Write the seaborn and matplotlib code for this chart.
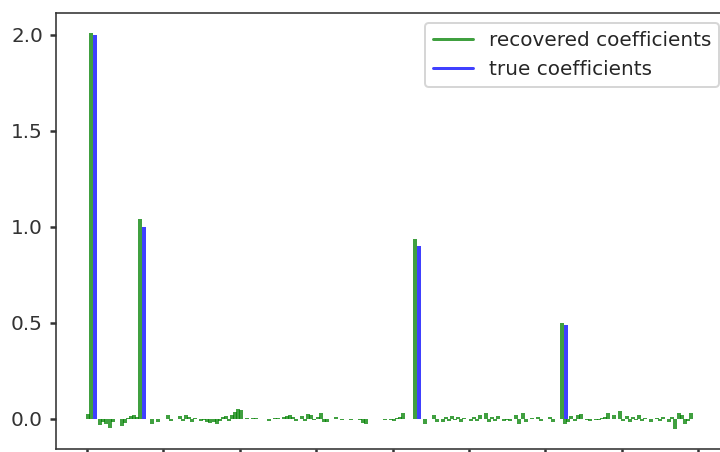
import numpy as np
import matplotlib
matplotlib.use("Agg")
import matplotlib.pyplot as plt
import seaborn as sns
from matplotlib.lines import Line2D

# Lasso fit on a sparse problem: 200 features, 4 of them active
n_features = 200
true_idx = [1, 17, 107, 155]
true_vals = [2.0, 1.0, 0.90, 0.49]

recovered = [
    0.025, 2.01, 0.0, 0.0, -0.035, -0.02, -0.03, -0.05, -0.02, 0.0,
    0.0, -0.04, -0.025, 0.005, 0.015, 0.02, 0.01, 1.04, 0.0, 0.0,
    0.0, -0.03, 0.0, -0.015, 0.0, 0.0, 0.02, -0.01, 0.0, 0.0,
    0.015, -0.01, 0.02, 0.01, -0.015, 0.005, 0.0, -0.01, -0.005, -0.015,
    -0.025, -0.02, -0.03, -0.01, 0.01, 0.015, -0.01, 0.02, 0.035, 0.05,
    0.045, 0.0, 0.005, 0.0, 0.005, 0.002, -0.003, 0.0, 0.0, -0.012,
    0.0, 0.005, 0.004, 0.0, 0.01, 0.015, 0.02, 0.01, -0.01, 0.0,
    0.015, -0.01, 0.025, 0.02, -0.005, 0.01, 0.03, -0.02, -0.02, 0.0,
    0.0, 0.008, 0.0, -0.005, 0.0, 0.0, -0.005, 0.0, 0.0, -0.005,
    -0.025, -0.03, 0.0, 0.0, 0.0, 0.0, 0.0, -0.005, 0.0, -0.008,
    -0.01, 0.005, 0.01, 0.03, 0.0, 0.0, 0.0, 0.935, 0.0, 0.0,
    -0.03, 0.0, 0.0, 0.02, -0.015, 0.0, -0.02, 0.01, -0.01, 0.015,
    -0.005, 0.01, -0.02, 0.005, 0.0, -0.01, 0.01, -0.01, 0.02, 0.0,
    0.03, -0.015, 0.01, -0.01, 0.015, 0.0, -0.01, -0.005, -0.01, 0.0,
    0.02, -0.03, 0.03, -0.02, 0.0, 0.005, 0.0, 0.01, -0.01, 0.0,
    0.0, 0.01, -0.02, 0.0, 0.0, 0.50, -0.03, -0.02, 0.015, -0.01,
    0.02, 0.025, 0.0, -0.005, -0.01, 0.0, -0.005, -0.008, 0.005, 0.008,
    0.03, 0.0, 0.02, 0.0, 0.04, -0.01, 0.015, -0.015, 0.01, -0.005,
    0.02, -0.01, 0.005, 0.0, -0.02, 0.0, 0.005, -0.01, 0.01, 0.0,
    -0.02, 0.01, -0.055, 0.03, 0.02, -0.03, -0.01, 0.03, 0.0, 0.0,
]

x_ticks = list(range(0, 201, 25))
y_ticks = [0.0, 0.5, 1.0, 1.5, 2.0]

sns.set_theme(style="ticks", color_codes=False, rc={
    "axes.edgecolor": "0.2",
    "axes.linewidth": 0.8,
    "xtick.major.size": 3,
    "ytick.major.size": 3,
    "xtick.color": "0.2",
    "ytick.color": "0.2",
    "text.color": "0.15",
    "font.size": 10,
    "xtick.labelsize": 10,
    "ytick.labelsize": 10,
    "legend.fontsize": 10,
})
plt.rcParams["font.family"] = ["DejaVu Sans"]

coef = np.zeros(n_features)
coef[true_idx] = true_vals
rec = np.asarray(recovered)
idx = np.arange(n_features)

fig = plt.figure(figsize=(5.0, 452 / 144), dpi=144)
# the axes run past the right edge of the canvas
ax = fig.add_axes([56 / 720, 3 / 452, 673 / 720, 436 / 452])

green = "#008000"
blue = "#0000ff"
alpha = 0.75
rec_mask = rec != 0
true_mask = coef != 0
ax.vlines(idx[rec_mask] + 0.5, 0, rec[rec_mask], color=green, alpha=alpha, linewidth=2.0)
ax.vlines(idx[true_mask] + 1.8, 0, coef[true_mask], color=blue, alpha=alpha, linewidth=2.0)

ax.set_xticks(x_ticks)
ax.set_xticklabels([])
ax.set_yticks(y_ticks)
ax.margins(y=0.05)
ax.set_xlim(-10, 210)

handles = [
    Line2D([], [], color=green, alpha=alpha, linewidth=1.5),
    Line2D([], [], color=blue, alpha=alpha, linewidth=1.5),
]
ax.legend(handles, ["recovered coefficients", "true coefficients"],
          loc="upper right", frameon=True, fancybox=True, framealpha=0.8,
          edgecolor="0.8")

fig.savefig("out.png", dpi=144)
